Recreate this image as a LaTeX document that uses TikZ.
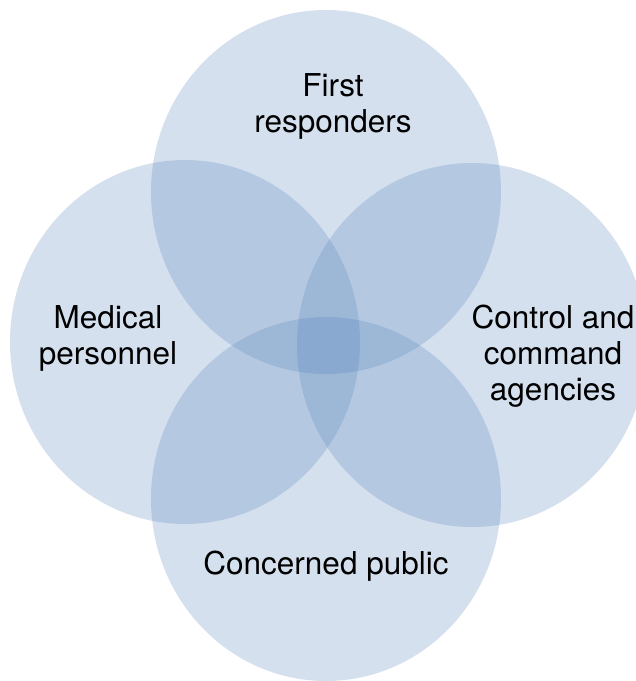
\documentclass[tikz,border=0pt]{standalone}
\usepackage{fontspec}
\setmainfont{TeX Gyre Heros}
\definecolor{vennblue}{RGB}{79,125,184}
\tikzset{
 disc/.style={fill=vennblue, fill opacity=.24},
 lbl/.style={align=center, font=\fontsize{31.5}{36}\selectfont, text=black}
}
\begin{document}
\begin{tikzpicture}[x=1pt, y=-1pt]
 \useasboundingbox (0,0) rectangle (636,681);
 % the four overlapping groups
 \fill[disc] (326,192) ellipse [x radius=175pt, y radius=182pt];
 \fill[disc] (185,342) ellipse [x radius=175pt, y radius=182pt];
 \fill[disc] (472,345) ellipse [x radius=175pt, y radius=182pt];
 \fill[disc] (326,499) ellipse [x radius=175pt, y radius=182pt];
 % labels
 \node[lbl] (first) at (333,106) {First\\responders};
 \node[lbl] (medical) at (108,338) {Medical\\personnel};
 \node[lbl] (control) at (553,356) {Control and\\command\\agencies};
 \node[lbl] (public) at (326,566) {Concerned public};
\end{tikzpicture}
\end{document}
